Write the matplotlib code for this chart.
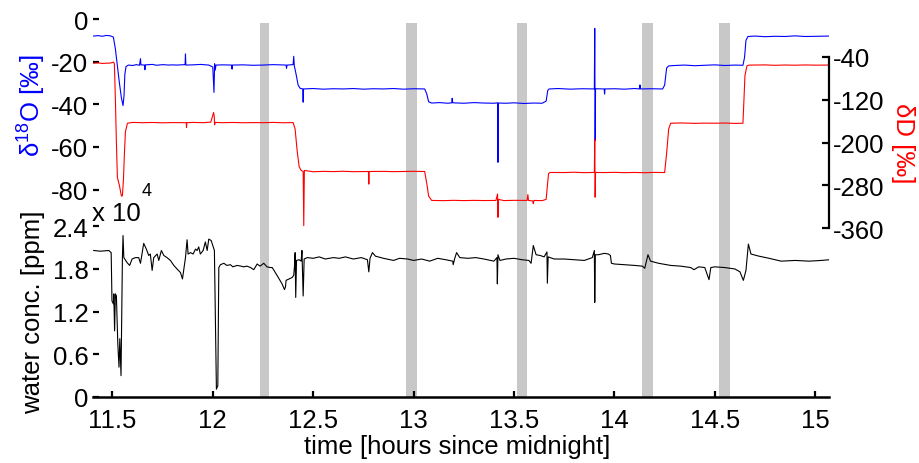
import matplotlib
matplotlib.use("Agg")
import matplotlib.pyplot as plt

plt.rcParams['font.family'] = ['Liberation Sans', 'DejaVu Sans']
plt.rcParams['mathtext.fontset'] = 'custom'
plt.rcParams['mathtext.rm'] = 'Liberation Sans'
plt.rcParams['mathtext.it'] = 'Liberation Sans'

# ---------------- data ----------------
d18o_t = [11.405, 11.43, 11.45, 11.47, 11.49, 11.505, 11.515, 11.525, 11.535, 11.545, 11.553, 11.558, 11.562,
          11.568, 11.58, 11.60, 11.62, 11.635, 11.64, 11.642, 11.66, 11.662, 11.664, 11.70, 11.72, 11.75, 11.78,
          11.80, 11.82, 11.862, 11.864, 11.866, 11.90, 11.94, 11.98, 12.0, 12.006, 12.009, 12.012, 12.016, 12.05,
          12.094, 12.096, 12.098, 12.15, 12.20, 12.25, 12.30, 12.365, 12.367, 12.37, 12.40, 12.403, 12.406,
          12.415, 12.425, 12.435, 12.448, 12.45, 12.452, 12.50, 12.55, 12.60, 12.65, 12.70, 12.75, 12.80, 12.85,
          12.90, 12.95, 13.00, 13.055, 13.065, 13.075, 13.09, 13.13, 13.17, 13.19, 13.192, 13.195, 13.25, 13.30,
          13.35, 13.40, 13.418, 13.42, 13.422, 13.46, 13.50, 13.55, 13.60, 13.64, 13.66, 13.668, 13.675, 13.72,
          13.78, 13.84, 13.90, 13.902, 13.904, 13.906, 13.949, 13.951, 13.953, 14.00, 14.05, 14.10, 14.125,
          14.127, 14.13, 14.18, 14.24, 14.25, 14.26, 14.27, 14.30, 14.35, 14.40, 14.45, 14.50, 14.55, 14.60,
          14.64, 14.648, 14.655, 14.665, 14.70, 14.75, 14.80, 14.85, 14.90, 14.95, 15.00, 15.07]
d18o_v = [-8.0, -7.8, -8.1, -7.7, -7.9, -8.5, -14, -22, -30, -37, -40.6, -36, -26,
          -22.3, -21.6, -21.8, -21.4, -21.7, -18.6, -21.5, -21.6, -23.8, -21.5, -21.3, -21.7, -21.4, -21.6,
          -21.5, -21.6, -21.4, -16.4, -21.6, -21.5, -21.3, -21.6, -22.5, -34.4, -21.0, -24.0, -21.6, -21.5,
          -21.6, -23.5, -21.6, -21.5, -21.7, -21.6, -21.4, -21.6, -23.1, -21.6, -21.4, -17.5, -22.0,
          -26.0, -31.0, -32.5, -32.8, -39.0, -32.8, -32.6, -32.9, -32.7, -32.8, -32.6, -32.9, -32.7, -32.8,
          -32.6, -32.9, -32.7, -32.8, -35.0, -38.8, -39.4, -39.2, -39.5, -39.3, -37.2, -39.3, -39.5, -39.2,
          -39.4, -39.5, -39.3, -67.2, -39.4, -39.5, -39.3, -39.6, -39.4, -39.5, -38.5, -33.5, -32.8, -32.6,
          -32.9, -32.7, -32.8, -4.4, -57.0, -32.7, -32.8, -35.2, -32.8, -32.7, -32.9, -32.6, -32.8,
          -30.9, -32.8, -32.7, -32.8, -31.0, -23.0, -22.0, -21.8, -21.6, -21.9, -21.7, -21.5, -21.8, -21.6,
          -21.7, -18.0, -10.0, -8.2, -8.0, -8.3, -8.1, -8.2, -7.9, -8.2, -8.1, -8.0]

dD_t = [11.405, 11.43, 11.45, 11.47, 11.49, 11.505, 11.51, 11.515, 11.52, 11.525, 11.535, 11.545, 11.55,
        11.555, 11.56, 11.565, 11.575, 11.60, 11.65, 11.70, 11.75, 11.80, 11.868, 11.869, 11.871, 11.90,
        11.95, 11.99, 12.004, 12.007, 12.009, 12.012, 12.05, 12.10, 12.15, 12.20, 12.25, 12.30, 12.35, 12.40,
        12.41, 12.42, 12.43, 12.44, 12.45, 12.453, 12.456, 12.50, 12.55, 12.60, 12.65, 12.70, 12.775, 12.777,
        12.779, 12.85, 12.90, 12.95, 13.00, 13.055, 13.065, 13.075, 13.09, 13.15, 13.20, 13.25, 13.30, 13.35,
        13.41, 13.418, 13.42, 13.422, 13.45, 13.50, 13.565, 13.569, 13.572, 13.594, 13.596, 13.60, 13.64,
        13.66, 13.665, 13.672, 13.68, 13.75, 13.80, 13.85, 13.90, 13.902, 13.904, 13.906, 13.95, 14.00, 14.05,
        14.10, 14.15, 14.20, 14.25, 14.26, 14.27, 14.28, 14.33, 14.40, 14.45, 14.50, 14.55, 14.60, 14.64,
        14.645, 14.65, 14.66, 14.67, 14.75, 14.80, 14.85, 14.90, 14.95, 15.00, 15.07]
dD_v = [-52, -51.5, -52.5, -52, -51.8, -50, -53, -120, -200, -265, -280, -300, -299,
        -270, -220, -180, -164, -162.5, -163, -162.6, -163.2, -162.8, -163, -172, -163, -162.5,
        -163, -162, -144, -150, -167, -162.5, -163, -162.6, -163.1, -162.8, -163, -162.5, -163.1, -162.8,
        -175, -215, -245, -252, -254, -355, -252, -254.5, -253.8, -254.2, -253.6, -254.4, -254, -277.6,
        -254, -253.8, -254.3, -254, -253.7, -254, -275, -300, -308, -308.4, -307.8, -308.3, -307.9, -308.2,
        -308, -296, -339.5, -306, -308.3, -307.8, -308, -297, -308, -309, -314, -308, -308.4,
        -306, -285, -258, -255.8, -256, -255.4, -256.2, -255.8, -194, -302, -255.8, -256, -255.6, -256.2,
        -255.8, -256.3, -255.7, -256, -220, -175, -164, -163.5, -164.2, -163.8, -164, -163.6, -164.3, -164,
        -120, -75, -57, -55.6, -55.2, -56, -55.4, -55.8, -55.3, -55.7, -55.5]

h2o_t = [11.407, 11.44, 11.482, 11.494, 11.498, 11.505, 11.507, 11.511, 11.515, 11.520, 11.527, 11.533,
         11.537, 11.543, 11.550, 11.553, 11.557, 11.573, 11.586, 11.598, 11.615, 11.631, 11.640, 11.656,
         11.669, 11.681, 11.689, 11.698, 11.706, 11.723, 11.731, 11.744, 11.756, 11.772, 11.789, 11.806,
         11.822, 11.839, 11.849, 11.855, 11.864, 11.872, 11.877, 11.889, 11.902, 11.914, 11.922, 11.930,
         11.938, 11.952, 11.963, 11.972, 11.980, 11.992, 12.002, 12.008, 12.013, 12.018, 12.025, 12.030,
         12.038, 12.055, 12.07, 12.088, 12.10, 12.121, 12.14, 12.154, 12.17, 12.188, 12.204, 12.221, 12.235,
         12.254, 12.27, 12.287, 12.296, 12.32, 12.345, 12.357, 12.362, 12.365, 12.38, 12.395, 12.403, 12.408,
         12.41, 12.413, 12.417, 12.43, 12.44, 12.444, 12.45, 12.455, 12.47, 12.5, 12.53, 12.56, 12.6, 12.63,
         12.66, 12.7, 12.74, 12.77, 12.777, 12.783, 12.795, 12.81, 12.85, 12.90, 12.93, 12.97, 13.0, 13.04,
         13.08, 13.12, 13.16, 13.195, 13.197, 13.205, 13.214, 13.23, 13.27, 13.31, 13.35, 13.40, 13.415,
         13.417, 13.42, 13.43, 13.46, 13.50, 13.54, 13.574, 13.585, 13.596, 13.61, 13.63, 13.65, 13.664,
         13.666, 13.67, 13.70, 13.75, 13.80, 13.85, 13.89, 13.90, 13.902, 13.905, 13.92, 13.95, 13.97, 13.98,
         13.985, 14.0, 14.05, 14.10, 14.139, 14.151, 14.167, 14.18, 14.22, 14.28, 14.33, 14.38, 14.396,
         14.42, 14.45, 14.471, 14.48, 14.50, 14.55, 14.60, 14.625, 14.642, 14.655, 14.662, 14.667, 14.68,
         14.72, 14.77, 14.83, 14.90, 14.97, 15.03, 15.07]
h2o_v = [2.06, 2.05, 2.06, 2.03, 1.35, 1.31, 1.45, 0.93, 1.45, 1.42, 0.75, 0.42,
         0.82, 0.30, 1.96, 2.27, 1.96, 1.89, 1.85, 1.94, 1.96, 1.96, 1.88, 2.16,
         2.08, 1.99, 2.01, 1.78, 1.96, 2.01, 1.92, 2.06, 1.99, 1.96, 1.92, 1.85,
         1.80, 1.75, 1.66, 1.78, 1.96, 2.21, 2.01, 2.03, 2.01, 2.08, 2.06, 2.11,
         2.01, 2.06, 2.18, 2.06, 2.22, 2.20, 2.11, 2.06, 1.03, 0.11, 0.16, 1.82,
         1.86, 1.88, 1.85, 1.86, 1.83, 1.85, 1.84, 1.83, 1.84, 1.82, 1.79, 1.87, 1.84,
         1.88, 1.83, 1.82, 1.82, 1.71, 1.59, 1.51, 1.55, 1.64, 1.66, 1.68, 1.71, 1.88,
         2.03, 1.40, 1.92, 1.93, 1.91, 2.06, 1.42, 1.94, 1.96, 1.95, 1.97, 1.94, 1.96, 1.95,
         1.97, 1.94, 1.96, 1.93, 1.76, 1.95, 2.03, 1.98, 1.95, 1.92, 1.95, 1.94, 1.92, 1.94,
         1.91, 1.95, 1.93, 1.91, 1.86, 1.95, 2.03, 1.96, 1.95, 1.96, 1.94, 1.91, 1.96,
         1.59, 2.0, 1.92, 1.94, 1.95, 1.93, 1.92, 1.88, 2.13, 2.0, 1.99, 1.97, 2.04,
         1.60, 1.97, 1.94, 1.94, 1.93, 1.92, 1.96, 2.06, 1.33, 2.0, 2.0, 2.02, 2.01, 1.99,
         1.88, 1.87, 1.86, 1.85, 1.84, 1.81, 2.0, 1.91, 1.88, 1.85, 1.84, 1.82, 1.79,
         1.83, 1.82, 1.65, 1.82, 1.83, 1.82, 1.80, 1.76, 1.64, 1.78, 2.00, 2.15, 2.01,
         1.98, 1.95, 1.91, 1.92, 1.91, 1.92, 1.93]

gap_start = [12.233, 12.962, 13.513, 14.137, 14.522]
gap_end = [12.280, 13.018, 13.566, 14.190, 14.578]

xticks = [11.5, 12, 12.5, 13, 13.5, 14, 14.5, 15]
xticklabels = ['11.5', '12', '12.5', '13', '13.5', '14', '14.5', '15']
d18o_ticks = [0, -20, -40, -60, -80]
dD_ticks = [-40, -120, -200, -280, -360]
h2o_ticks = [0, 0.6, 1.2, 1.8, 2.4]
h2o_ticklabels = ['0', '0.6', '1.2', '1.8', '2.4']

# ---------------- figure ----------------
W, H = 920, 464
fig = plt.figure(figsize=(W / 100, H / 100), dpi=100)
XL = (11.405, 15.07)
FS = 18.5

def fx(px):
    return px / W

def fy(py):
    return 1 - py / H

left = fx(93.3)
width = fx(829.3) - left

# background axes for gray bars
ax_bg = fig.add_axes([left, fy(398), width, fy(24) - fy(398)])
ax_bg.set_xlim(*XL)
ax_bg.axis('off')
for s, e in zip(gap_start, gap_end):
    ax_bg.axvspan(s, e, color='#c8c8c8', lw=0)

# top axes: isotopes
ax_t = fig.add_axes([left, fy(232), width, fy(20) - fy(232)])
ax_t.patch.set_visible(False)
ax_t.set_xlim(*XL)
ax_t.set_ylim(-99.4, 0)
ax_t.plot(d18o_t, d18o_v, color='#0000ff', lw=0.8)
for sp in ['left', 'right', 'top', 'bottom']:
    ax_t.spines[sp].set_visible(False)
ax_t.set_xticks([])
ax_t.set_yticks(d18o_ticks)
ax_t.set_yticklabels([str(v) for v in d18o_ticks])
ax_t.tick_params(axis='y', direction='in', length=4.5, width=1.6, pad=3.5, labelsize=FS)

ax_r = ax_t.twinx()
ax_r.patch.set_visible(False)
ax_r.set_xlim(*XL)
ax_r.set_ylim(-365, 30.4)
ax_r.plot(dD_t, dD_v, color='#ff0000', lw=0.8)
for sp in ['left', 'top', 'bottom']:
    ax_r.spines[sp].set_visible(False)
ax_r.spines['right'].set_bounds(-360, -40)
ax_r.spines['right'].set_linewidth(1.6)
ax_r.set_yticks(dD_ticks)
ax_r.set_yticklabels([str(v) for v in dD_ticks])
ax_r.tick_params(axis='y', direction='in', length=5, width=1.6, pad=2.5, labelsize=FS)

# bottom axes: water concentration
ax_b = fig.add_axes([left, fy(398), width, fy(227.3) - fy(398)])
ax_b.patch.set_visible(False)
ax_b.set_xlim(*XL)
ax_b.set_ylim(0, 2.4)
ax_b.plot(h2o_t, h2o_v, color='black', lw=0.8)
for sp in ['left', 'right', 'top']:
    ax_b.spines[sp].set_visible(False)
ax_b.spines['bottom'].set_linewidth(1.8)
ax_b.set_xticks(xticks)
ax_b.set_xticklabels(xticklabels)
ax_b.set_yticks(h2o_ticks)
ax_b.set_yticklabels(h2o_ticklabels)
ax_b.tick_params(axis='both', direction='in', length=4.5, width=1.6, labelsize=FS)
ax_b.tick_params(axis='y', pad=3.5)
ax_b.tick_params(axis='x', pad=8)

# labels
fig.text(fx(457), fy(447), 'time [hours since midnight]', ha='center', va='center', fontsize=FS)
fig.text(fx(33), fy(312), 'water conc. [ppm]', ha='center', va='center', rotation=90, fontsize=FS)
fig.text(fx(32), fy(106), 'δ$^{18}$O [‰]', ha='center', va='center', rotation=90, fontsize=FS,
         color='#0000ff')
fig.text(fx(903), fy(143), 'δD [‰]', ha='center', va='center', rotation=-90, fontsize=FS,
         color='#ff0000')
fig.text(fx(92), fy(214), 'x 10', ha='left', va='center', fontsize=FS)
fig.text(fx(142), fy(192), '4', ha='left', va='center', fontsize=13)

fig.savefig('out.png', dpi=100)
